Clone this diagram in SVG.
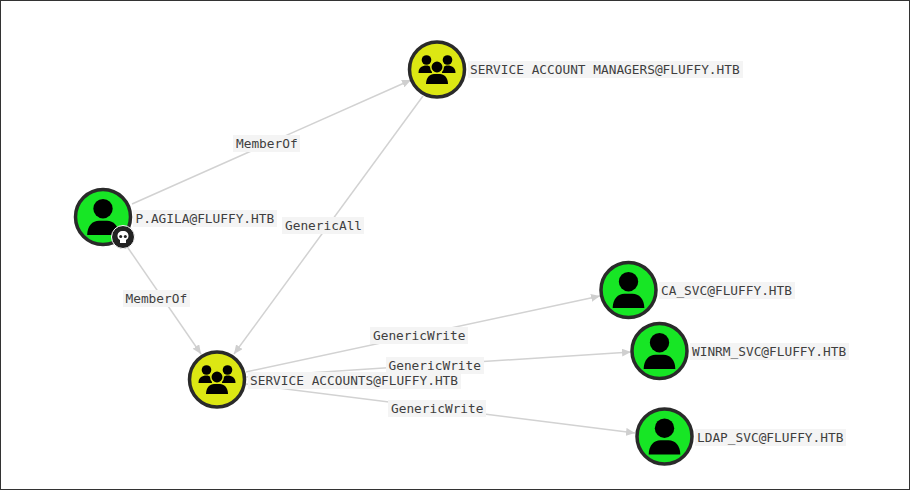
<svg xmlns="http://www.w3.org/2000/svg" width="910" height="490" viewBox="0 0 910 490">
<defs>
<marker id="arrow" markerUnits="userSpaceOnUse" markerWidth="10" markerHeight="8" refX="9" refY="4" orient="auto"><path d="M0 0L9 4L0 8Z" fill="#cfcfcf"/></marker>
<g id="user-glyph"><circle cx="0" cy="-8.300" r="9.700"/><path d="M-15.800 18C-15.800 9 -10.500 3.800 -4 3.800H4C10.500 3.800 15.800 9 15.800 18Z"/></g>
<g id="group-glyph"><circle cx="-10.500" cy="-9.500" r="4.800"/><circle cx="10.500" cy="-9.500" r="4.800"/><path d="M-18.500 3.500C-18.500 -2 -15 -4 -10.500 -4C-7 -4 -5 -2 -5 3.500Z"/><path d="M18.500 3.500C18.500 -2 15 -4 10.500 -4C7 -4 5 -2 5 3.500Z"/><circle cx="0" cy="-2.500" r="6.200" stroke="#dce713" stroke-width="1.500"/><path d="M-11 14.500C-11 8 -7 4.500 -3 4.500H3C7 4.500 11 8 11 14.500Z"/></g>
</defs>
<style>
text{font-family:"DejaVu Sans Mono","Liberation Mono",monospace;font-size:12.800px;fill:#3f3f3f;dominant-baseline:central}
.bg{fill:#f4f4f4}
.edge{stroke:#d2d2d2;stroke-width:1.500;fill:none;marker-end:url(#arrow)}
.ring{stroke:#2a2a2a;stroke-width:3.500}
.user{fill:#17e625}
.group{fill:#dce713}
</style>
<rect x="0.500" y="0.500" width="909" height="489" fill="#fff" stroke="#333"/>
<g id="connectors">
<path class="edge" d="M132 204L411 80"/>
<path class="edge" d="M126 245L201 354"/>
<path class="edge" d="M423 96L234 354"/>
<path class="edge" d="M246 372L600 296"/>
<path class="edge" d="M246 377L631 352"/>
<path class="edge" d="M246 384L635 433"/>
<g>
<rect class="bg" x="233" y="135" width="67" height="17"/><text x="236" y="143.500">MemberOf</text>
<rect class="bg" x="123" y="290" width="67" height="17"/><text x="125.500" y="298.500">MemberOf</text>
<rect class="bg" x="282" y="217" width="82" height="17"/><text x="285" y="225.500">GenericAll</text>
<rect class="bg" x="370" y="327" width="98" height="17"/><text x="373" y="335.500">GenericWrite</text>
<rect class="bg" x="386" y="357" width="98" height="17"/><text x="388.500" y="365.500">GenericWrite</text>
<rect class="bg" x="388" y="400" width="98" height="17"/><text x="391" y="408.500">GenericWrite</text>
</g>
</g>
<g id="service-account-managers">
<circle class="ring group" cx="437" cy="69.500" r="27.500"/><use href="#group-glyph" x="437" y="69.500"/>
<rect class="bg" x="468" y="61" width="275" height="17"/><text x="470" y="69.500">SERVICE ACCOUNT MANAGERS@FLUFFY.HTB</text>
</g>
<g id="p-agila">
<circle class="ring user" cx="103" cy="217" r="27.500"/><use href="#user-glyph" x="103" y="217"/>
<circle cx="123" cy="237" r="11.500" fill="#222" stroke="#fff" stroke-width="1"/>
<path d="M123 231C119.500 231 117.500 233 117.500 236C117.500 238 118.500 239 120 240V243H126V240C127.500 239 128.500 238 128.500 236C128.500 233 126.500 231 123 231Z" fill="#fff"/>
<circle cx="120.700" cy="236.500" r="1.500" fill="#222"/><circle cx="125.300" cy="236.500" r="1.500" fill="#222"/>
<rect class="bg" x="133" y="210" width="144" height="17"/><text x="135.500" y="218.500">P.AGILA@FLUFFY.HTB</text>
</g>
<g id="service-accounts">
<circle class="ring group" cx="217" cy="379.500" r="27.500"/><use href="#group-glyph" x="217" y="379.500"/>
<rect class="bg" x="248" y="372" width="213" height="17"/><text x="250" y="380.500">SERVICE ACCOUNTS@FLUFFY.HTB</text>
</g>
<g id="ca-svc">
<circle class="ring user" cx="628.500" cy="290" r="27.500"/><use href="#user-glyph" x="628.500" y="290"/>
<rect class="bg" x="659" y="282" width="136" height="17"/><text x="661" y="290.500">CA_SVC@FLUFFY.HTB</text>
</g>
<g id="winrm-svc">
<circle class="ring user" cx="659.500" cy="351" r="27.500"/><use href="#user-glyph" x="659.500" y="351"/>
<rect class="bg" x="690" y="343" width="159" height="17"/><text x="692" y="351.500">WINRM_SVC@FLUFFY.HTB</text>
</g>
<g id="ldap-svc">
<circle class="ring user" cx="664.500" cy="436.500" r="27.500"/><use href="#user-glyph" x="664.500" y="436.500"/>
<rect class="bg" x="695" y="429" width="151" height="17"/><text x="697" y="437.500">LDAP_SVC@FLUFFY.HTB</text>
</g>
</svg>
